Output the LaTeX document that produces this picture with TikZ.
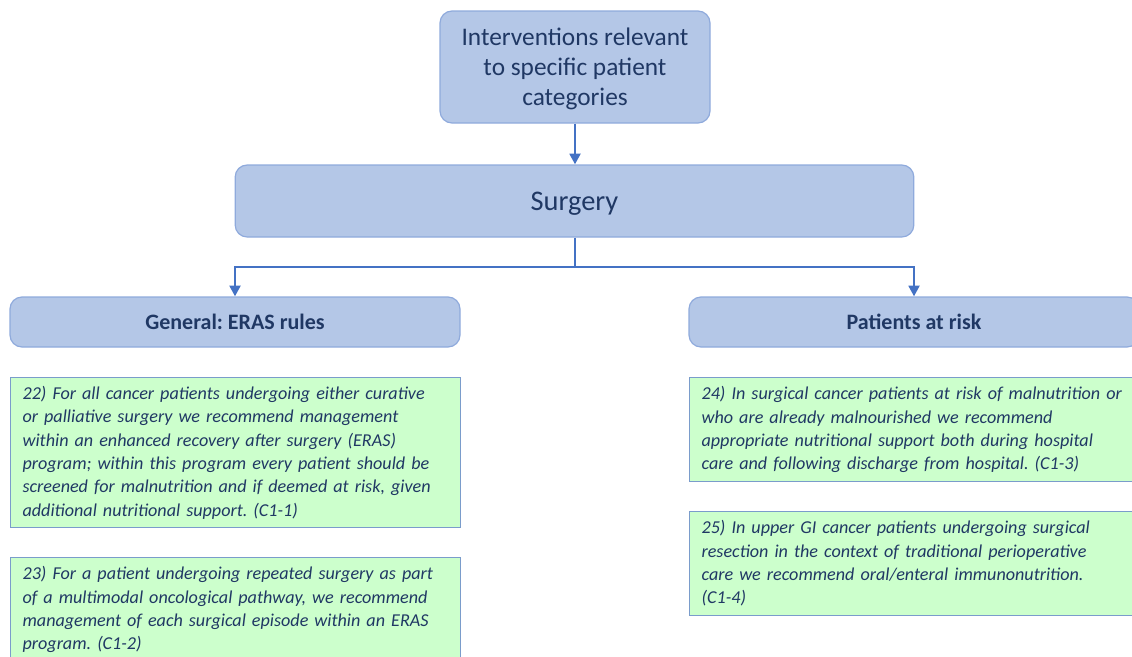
\documentclass[tikz,border=0pt]{standalone}
\usepackage{fontspec}
\setmainfont{Carlito}
\usetikzlibrary{arrows.meta}
\frenchspacing

\definecolor{boxblue}{HTML}{B4C7E7}
\definecolor{edgeblue}{HTML}{8FAADC}
\definecolor{recgreen}{HTML}{CCFFCC}
\definecolor{recedge}{HTML}{7A9CCB}
\definecolor{txtblue}{HTML}{203864}
\definecolor{arrowblue}{HTML}{4472C4}

\tikzset{
  headbox/.style={draw=edgeblue, fill=boxblue, rounded corners=9pt, line width=0.9pt,
    text=txtblue, align=center, inner sep=0pt},
  recbox/.style={draw=recedge, fill=recgreen, line width=0.9pt, text=txtblue,
    anchor=north west, align=left, inner xsep=9pt, inner ysep=0pt,
    font=\fontsize{13.6}{17.5}\selectfont\itshape},
  flow/.style={draw=arrowblue, line width=2.2pt, -{Triangle[length=8pt,width=8pt]}}
}

\begin{document}
\begin{tikzpicture}[x=0.75pt,y=0.75pt,yscale=-1,xscale=1]
                \useasboundingbox (0,0) rectangle (1132,657);

                % Top box
                \node (top) [headbox, minimum width=202.5pt, minimum height=84pt, text depth=0pt,
                  font=\fontsize{19}{22.5}\selectfont] at (575,67)
                  {Interventions relevant\\ to specific patient\\ categories};
                % Surgery box
                \node (surg) [headbox, minimum width=509pt, minimum height=54pt, text depth=0pt,
                  font=\fontsize{21.3}{25}\selectfont] at (574.5,201) {Surgery};
                % Branch boxes
                \node (gen) [headbox, minimum width=337.5pt, minimum height=37.5pt,
                  font=\fontsize{16.5}{19}\selectfont\bfseries] at (235,322) {General: ERAS rules};
                \node (risk) [headbox, minimum width=337.5pt, minimum height=37.5pt,
                  font=\fontsize{16.5}{19}\selectfont\bfseries] at (914,322) {Patients at risk};

                % Recommendation boxes
                \node (r22) [recbox, text width=319.5pt, minimum height=112.5pt] at (10,377)
                  {22) For all cancer patients undergoing either curative\\
                   or palliative surgery we recommend management\\
                   within an enhanced recovery after surgery (ERAS)\\
                   program; within this program every patient should be\\
                   screened for malnutrition and if deemed at risk, given\\
                   additional nutritional support. (C1-1)};
                \node (r23) [recbox, text width=319.5pt, minimum height=78pt] at (10,557)
                  {23) For a patient undergoing repeated surgery as part\\
                   of a multimodal oncological pathway, we recommend\\
                   management of each surgical episode within an ERAS\\
                   program. (C1-2)};
                \node (r24) [recbox, text width=319.5pt, minimum height=78pt] at (689,377)
                  {24) In surgical cancer patients at risk of malnutrition or\\
                   who are already malnourished we recommend\\
                   appropriate nutritional support both during hospital\\
                   care and following discharge from hospital. (C1-3)};
                \node (r25) [recbox, text width=319.5pt, minimum height=78pt] at (689,511)
                  {25) In upper GI cancer patients undergoing surgical\\
                   resection in the context of traditional perioperative\\
                   care we recommend oral/enteral immunonutrition.\\
                   (C1-4)};

                % Connectors
                \coordinate (fork) at (575,267);
                \draw [flow] (top.south) -- (top.south |- surg.north);
                \draw [arrowblue, line width=2.2pt] (surg.south -| fork) -- (fork);
                \draw [flow] (fork) -| (gen.north);
                \draw [flow] (fork) -| (risk.north);
\end{tikzpicture}
\end{document}
